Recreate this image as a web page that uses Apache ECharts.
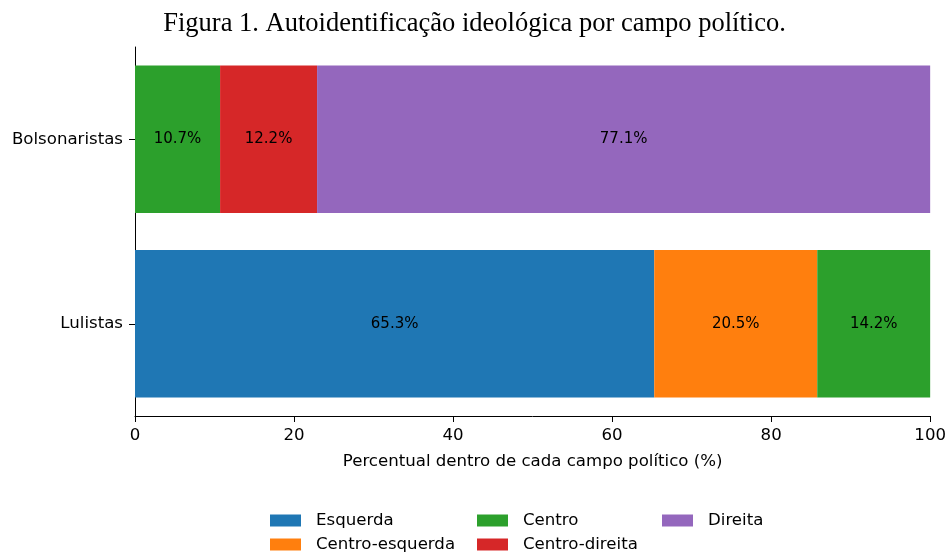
<!DOCTYPE html>
<html><head><meta charset="utf-8">
<script src="https://cdn.jsdelivr.net/npm/echarts@6/dist/echarts.min.js"></script>
<style>html,body{margin:0;padding:0;background:#fff}#c{width:949px;height:554px}</style>
</head><body><div id="c"></div>
<script>
const categories = ['Lulistas', 'Bolsonaristas'];
const seriesNames = ['Esquerda', 'Centro-esquerda', 'Centro', 'Centro-direita', 'Direita'];
const esquerda = [65.3, 0];
const centroEsquerda = [20.5, 0];
const centro = [14.2, 10.7];
const centroDireita = [0, 12.2];
const direita = [0, 77.1];
const xTicks = [0, 20, 40, 60, 80, 100];
const colors = ['#1f77b4', '#ff7f0e', '#2ca02c', '#d62728', '#9467bd'];
const values = [esquerda, centroEsquerda, centro, centroDireita, direita];

const font = 'DejaVu Sans';
const fs = 16.6;
const chart = echarts.init(document.getElementById('c'), null, {renderer: 'canvas'});
const legendPos = [
  {left: 270, top: 512}, {left: 270, top: 536},
  {left: 477, top: 512}, {left: 477, top: 536},
  {left: 662, top: 512}
];
chart.setOption({
  animation: false,
  title: {
    text: 'Figura 1. Autoidentificação ideológica por campo político.',
    left: 'center', top: 6,
    textStyle: {fontFamily: 'Liberation Serif', fontSize: 26.5, fontWeight: 'normal', color: '#000'}
  },
  legend: seriesNames.map((n, i) => ({
    data: [n], left: legendPos[i].left, top: legendPos[i].top, padding: 0,
    icon: 'rect', itemWidth: 31, itemHeight: 12,
    selectedMode: false,
    textStyle: {fontFamily: font, fontSize: fs, color: '#000', padding: [0, 0, 0, 10]}
  })),
  grid: {left: 135, right: 18, top: 47, bottom: 138, containLabel: false},
  xAxis: {
    type: 'value', min: xTicks[0], max: xTicks[xTicks.length - 1], interval: 20,
    name: 'Percentual dentro de cada campo político (%)',
    nameLocation: 'middle', nameGap: 37,
    nameTextStyle: {fontFamily: font, fontSize: fs, color: '#000'},
    axisLine: {show: true, lineStyle: {color: '#000', width: 1}},
    axisTick: {show: true, length: 6, lineStyle: {color: '#000'}},
    axisLabel: {fontFamily: font, fontSize: fs, color: '#000', margin: 11},
    splitLine: {show: false}
  },
  yAxis: {
    type: 'category', data: categories,
    axisLine: {show: true, lineStyle: {color: '#000', width: 1}},
    axisTick: {show: true, alignWithLabel: true, length: 6, lineStyle: {color: '#000'}},
    axisLabel: {fontFamily: font, fontSize: fs, color: '#000', margin: 12}
  },
  series: seriesNames.map((n, i) => ({
    name: n, type: 'bar', stack: 'total', barWidth: '80%',
    itemStyle: {color: colors[i]},
    data: values[i].map(v => v === 0 ? null : v),
    label: {
      show: true, position: 'inside', color: '#000',
      fontFamily: font, fontSize: 15,
      formatter: p => p.value.toFixed(1) + '%'
    }
  }))
});
</script></body></html>
